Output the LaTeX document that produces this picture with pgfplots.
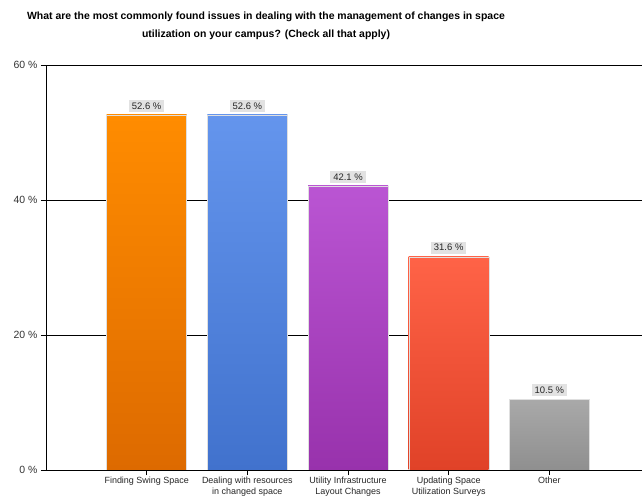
\documentclass[border=0pt]{standalone}
\usepackage{pgfplots}
\pgfplotsset{compat=1.18}
\usepackage{fontspec}
\setmainfont{Liberation Sans}
\definecolor{oT}{RGB}{255,140,0}\definecolor{oB}{RGB}{221,106,0}
\definecolor{bT}{RGB}{100,149,237}\definecolor{bB}{RGB}{65,114,205}
\definecolor{pT}{RGB}{186,85,211}\definecolor{pB}{RGB}{152,50,172}
\definecolor{rT}{RGB}{255,99,71}\definecolor{rB}{RGB}{224,66,40}
\definecolor{gT}{RGB}{169,169,169}\definecolor{gB}{RGB}{143,143,143}
\definecolor{lbl}{RGB}{226,226,226}
\begin{document}
\begin{tikzpicture}
\path[use as bounding box] (-46bp,-27bp) rectangle (596bp,470bp);
\begin{axis}[
  at={(0,0)}, anchor=south west, scale only axis,
  width=596bp, height=405bp,
  xmin=-1, xmax=4.92, ymin=0, ymax=60,
  axis lines=left, axis line style={-, black, line width=0.9pt},
  ytick={0,20,40,60},
  /pgf/number format/assume math mode=true,
  yticklabel={\pgfmathprintnumber{\tick}~\%},
  yticklabel style={font=\fontsize{10.5}{12}\selectfont, text=black!80},
  ymajorgrids, grid style={black, line width=0.7pt},
  xtick={0,1,2,3,4},
  xticklabels={Finding Swing Space, Dealing with resources\\in changed space, Utility Infrastructure\\Layout Changes, Updating Space\\Utilization Surveys, Other},
  xticklabel style={align=center, font=\fontsize{9}{10.5}\selectfont, text=black!85, inner sep=2pt},
  tick align=outside, major tick length=5bp,
  tick style={black, line width=0.8pt},
  ybar, bar width=80bp, bar shift=0pt,
  nodes near coords={\pgfmathprintnumber[fixed, fixed zerofill, precision=1]{\pgfplotspointmeta}~\%},
  every node near coord/.append style={fill=lbl, text=black!85, font=\fontsize{9.5}{11}\selectfont, inner xsep=3pt, inner ysep=2.5pt, yshift=3bp},
]
\addplot[draw=gray!25, top color=oT, bottom color=oB] coordinates {(0,52.6)};
\addplot[draw=gray!25, top color=bT, bottom color=bB] coordinates {(1,52.6)};
\addplot[draw=gray!25, top color=pT, bottom color=pB] coordinates {(2,42.1)};
\addplot[draw=gray!25, top color=rT, bottom color=rB] coordinates {(3,31.6)};
\addplot[draw=gray!25, top color=gT, bottom color=gB] coordinates {(4,10.5)};
\end{axis}
\node[align=center, font=\bfseries\fontsize{10.5}{18}\selectfont] at (220bp,444bp) {What are the most commonly found issues in dealing with the management of changes in space\\utilization on your campus? (Check all that apply)};
\end{tikzpicture}
\end{document}
